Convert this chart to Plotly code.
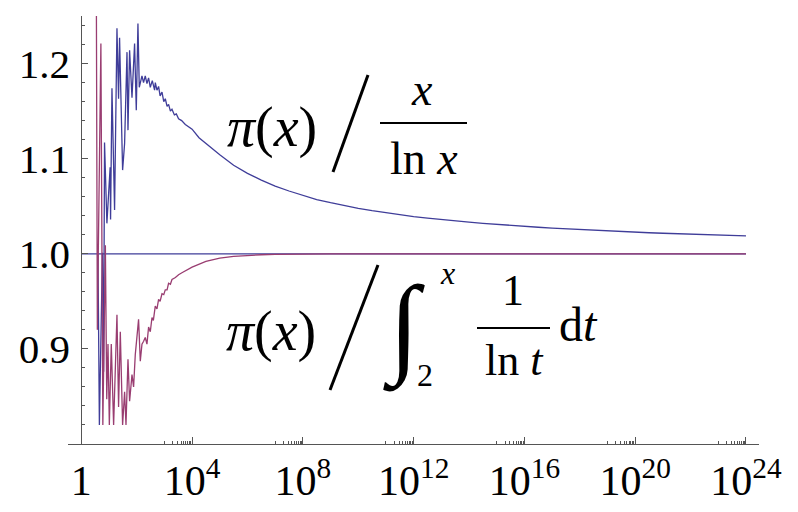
import plotly.graph_objects as go

# ---------------- data ----------------
ratio_x = [4.0, 4.5, 5.8, 6.4, 6.9, 8.4, 11.0, 11.4, 12.8, 15.9, 19.4, 22.2, 24.1, 31.0,
           36.6, 44.7, 48.5, 55.5, 67.7, 84.0, 96.8, 111, 124, 155, 177, 204, 235, 269,
           310, 366, 443, 470, 540, 618, 700, 820, 950, 1080, 1250, 1420, 1650, 1880,
           2300, 2700, 3250, 4200, 5700, 7500, 1e4, 10**4.25, 10**4.5, 10**4.75,
           1e5, 10**5.5, 1e6, 10**6.5, 1e7, 10**7.5, 1e8, 10**8.5, 1e9, 10**9.5,
           1e10, 10**10.5, 1e11, 10**11.5, 1e12, 10**12.5, 1e13, 10**13.5, 1e14, 10**14.5,
           1e15, 10**15.5, 1e16, 10**16.5, 1e17, 10**17.5, 1e18, 10**18.5, 1e19, 10**19.5,
           1e20, 10**20.5, 1e21, 10**21.5, 1e22, 10**22.5, 1e23, 10**23.5, 1e24]
ratio_y = [1.000, 0.820, 1.001, 0.876, 1.117, 1.032, 1.091, 1.036, 1.174, 1.046, 1.237, 1.163,
           1.227, 1.088, 1.116, 1.212, 1.130, 1.214, 1.164, 1.221, 1.151, 1.242, 1.175, 1.187,
           1.180, 1.187, 1.179, 1.185, 1.175, 1.182, 1.172, 1.180, 1.172, 1.176, 1.166, 1.170,
           1.160, 1.163, 1.155, 1.157, 1.150, 1.152, 1.146, 1.147, 1.142, 1.140, 1.136, 1.134,
           1.131, 1.122, 1.116, 1.110,
           1.104, 1.093, 1.0845, 1.0775, 1.0712, 1.066, 1.0613, 1.057, 1.0537, 1.0506,
           1.0478, 1.0453, 1.0430, 1.0410, 1.0391, 1.0375, 1.0359, 1.0345, 1.0332, 1.0320,
           1.0308, 1.0298, 1.0288, 1.0279, 1.0270, 1.0262, 1.0254, 1.0247, 1.0240, 1.0233,
           1.0227, 1.0221, 1.0216, 1.0211, 1.0206, 1.0201, 1.0196, 1.0192, 1.0188]

li_x = [3.5, 3.8, 5.1, 6.0, 7.4, 8.3, 9.2, 10.3, 12.1, 14.7, 19.4, 22.2, 25.6, 31.0, 36.6,
        41.1, 48.5, 55.5, 67.7, 77.3, 89.0, 103, 117, 135, 155, 178, 204, 235, 269, 310, 357,
        400, 469, 540, 618, 700, 819, 950, 1077, 1250, 1418, 1650, 1881, 2500, 3256, 4300,
        5683, 1e4, 10**4.5, 1e5, 10**5.5, 1e6, 10**6.5, 1e7, 10**7.5, 1e8, 1e9, 1e12, 1e16,
        1e20, 1e24]
li_y = [1.270, 0.920, 1.221, 0.820, 1.009, 0.847, 0.905, 0.820, 0.905, 0.820, 0.936, 0.839,
        0.918, 0.820, 0.855, 0.820, 0.889, 0.845, 0.873, 0.860, 0.894, 0.913, 0.931, 0.887,
        0.905, 0.908, 0.912, 0.905, 0.923, 0.918, 0.933, 0.930, 0.945, 0.942, 0.952, 0.950,
        0.958, 0.957, 0.962, 0.962, 0.969, 0.968, 0.973, 0.975, 0.978, 0.980, 0.982, 0.986,
        0.992, 0.9955, 0.9973, 0.9983, 0.9990, 0.9994, 0.9997, 0.9998, 1.000, 1.000, 1.000,
        1.000, 1.000]

one_x = [1, 1e24]
one_y = [1.0, 1.0]

x_tick_vals = [1, 1e4, 1e8, 1e12, 1e16, 1e20, 1e24]
x_tick_text = ["1", "10<sup>4</sup>", "10<sup>8</sup>", "10<sup>12</sup>",
               "10<sup>16</sup>", "10<sup>20</sup>", "10<sup>24</sup>"]
y_tick_vals = [0.9, 1.0, 1.1, 1.2]
y_tick_text = ["0.9", "1.0", "1.1", "1.2"]

BLUE = "#3f3d99"
RED = "#993d71"
AXIS = "#555555"
SERIF = "Liberation Serif"

fig = go.Figure()
fig.add_trace(go.Scatter(x=one_x, y=one_y, mode="lines",
                         line=dict(color=BLUE, width=1.3), showlegend=False))
fig.add_trace(go.Scatter(x=ratio_x, y=ratio_y, mode="lines",
                         line=dict(color=BLUE, width=1.3), showlegend=False))
fig.add_trace(go.Scatter(x=li_x, y=li_y, mode="lines",
                         line=dict(color=RED, width=1.3), showlegend=False))

# plot-area geometry in page pixels (the page body adds an 8px offset)
OFF = 8
W, H = 798 - OFF, 512 - OFF
PL, PT, PR, PB = 68, 16, 759, 444          # plot box in page pixels
L, T = PL - OFF, PT - OFF
R, B = W - (PR - OFF), H - (PB - OFF)
PW, PH = PR - PL, PB - PT
XLO, XHI = -0.48, 24.47


def px(xp):
    return (xp - PL) / PW


def py(yp):
    return (PB - yp) / PH


x_minor = [k * 10.0 ** (4 * n - 1) for n in range(1, 7) for k in range(1, 10)]
y_minor = [round(0.82 + 0.02 * i, 2) for i in range(22)]
y_minor = [v for v in y_minor if abs(v * 10 - round(v * 10)) > 1e-6]

fig.update_layout(
    width=W, height=H,
    margin=dict(l=L, r=R, t=T, b=B),
    paper_bgcolor="white", plot_bgcolor="white",
    xaxis=dict(type="log", range=[XLO, XHI], showgrid=False, zeroline=False,
               showline=True, linecolor=AXIS, linewidth=1,
               tickmode="array", tickvals=x_tick_vals, ticktext=x_tick_text,
               ticks="inside", ticklen=7, tickcolor=AXIS, tickwidth=1,
               minor=dict(tickmode="array", tickvals=x_minor, ticks="inside",
                          ticklen=3, tickcolor=AXIS, tickwidth=1, showgrid=False),
               tickfont=dict(family=SERIF, size=42, color="black"),
               ticklabelstandoff=0, automargin=False),
    yaxis=dict(range=[0.8, 1.25], showgrid=False, zeroline=False,
               anchor="free", position=(0 - XLO) / (XHI - XLO),
               showline=True, linecolor=AXIS, linewidth=1,
               tickmode="array", tickvals=y_tick_vals, ticktext=y_tick_text,
               ticks="inside", ticklen=6, tickcolor=AXIS, tickwidth=1,
               minor=dict(tickmode="array", tickvals=y_minor, ticks="inside",
                          ticklen=3, tickcolor=AXIS, tickwidth=1, showgrid=False),
               tickfont=dict(family=SERIF, size=41, color="black"),
               ticklabelstandoff=3, automargin=False),
)


def label(text, x, y, size):
    fig.add_annotation(text=text, x=px(x), y=py(y), xref="paper", yref="paper",
                       xanchor="center", yanchor="middle", showarrow=False,
                       font=dict(family=SERIF, size=size, color="black"))


def seg(x0, y0, x1, y1, w):
    fig.add_shape(type="line", xref="paper", yref="paper",
                  x0=px(x0), y0=py(y0), x1=px(x1), y1=py(y1),
                  line=dict(color="black", width=w))


# upper label  pi(x) / (x / ln x)
label("<i>π</i>(<i>x</i>)", 272, 127, 56)
seg(333, 172, 368, 75, 3)
label("<i>x</i>", 422, 89, 46)
seg(380, 123, 467, 123, 2)
label("ln <i>x</i>", 424, 158, 46)

# lower label  pi(x) / integral_2^x 1/ln t dt
label("<i>π</i>(<i>x</i>)", 271, 331, 56)
seg(330, 390, 378, 265, 3)
label("∫", 404, 328, 110)
label("<i>x</i>", 447, 273, 32)
label("2", 425, 375, 32)
label("1", 513, 290, 44)
seg(477, 328, 550, 328, 2)
label("ln <i>t</i>", 514, 360, 44)
label("d<i>t</i>", 578, 324, 48)

fig.write_html("out.html")
